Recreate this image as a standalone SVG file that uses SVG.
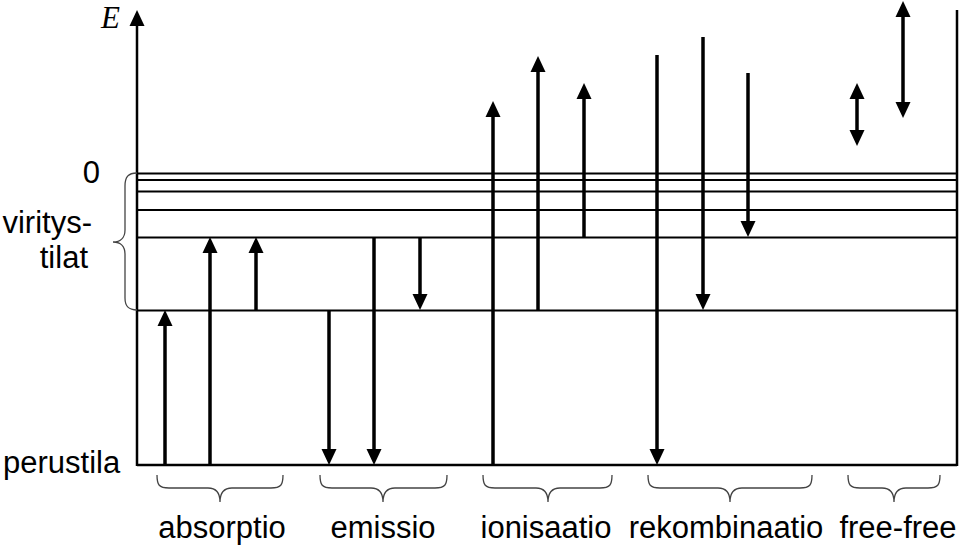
<svg xmlns="http://www.w3.org/2000/svg" width="960" height="549" viewBox="0 0 960 549">
<defs>
<marker id="ah" markerUnits="userSpaceOnUse" markerWidth="16" markerHeight="16" viewBox="0 0 16 16" refX="11" refY="8" orient="auto-start-reverse"><path d="M0,0.5 L16,8 L0,15.5 z" fill="#000"/></marker>
<style>
.lvl{stroke:#000;stroke-width:2;fill:none}
.ax{stroke:#000;stroke-width:2.5;fill:none}
.arr{stroke:#000;stroke-width:3.5;fill:none;marker-end:url(#ah)}
.dbl{stroke:#000;stroke-width:3.5;fill:none;marker-end:url(#ah);marker-start:url(#ah)}
.br{stroke:#444;stroke-width:1.3;fill:none}
text{font-family:"Liberation Sans",Arial,sans-serif;font-size:31px;fill:#000}
text.it{font-family:"Liberation Serif","Times New Roman",serif;font-style:italic;font-size:31px}
</style>
</defs>
<g id="axes">
<path class="ax" d="M137,466 L137,15" style="marker-end:url(#ah)"/>
<path class="ax" d="M957,10 L957,466"/>
<text class="it" x="101" y="28">E</text>
</g>
<g id="levels">
<path class="lvl" d="M137,173.5 H957"/>
<path class="lvl" d="M137,180 H957"/>
<path class="lvl" d="M137,191.5 H957"/>
<path class="lvl" d="M137,210 H957"/>
<path class="lvl" d="M137,237.5 H957"/>
<path class="lvl" d="M137,310.5 H957"/>
<path class="ax" d="M137,465 H957"/>
</g>
<g id="left-labels">
<text x="100" y="183" text-anchor="end">0</text>
<text x="92" y="233" text-anchor="end">viritys-</text>
<text x="88" y="268" text-anchor="end">tilat</text>
<text x="3" y="473">perustila</text>
<path class="br" d="M137,173 C128,173 125,177 125,186 L125,230 C125,238 120,242 113,242 C120,242 125,246 125,254 L125,298 C125,306 128,310 137,310"/>
</g>
<g id="connectors">
<path class="arr" d="M165,465 V315"/>
<path class="arr" d="M210,465 V242"/>
<path class="arr" d="M256,310 V242"/>
<path class="arr" d="M329,310 V460"/>
<path class="arr" d="M374,237 V460"/>
<path class="arr" d="M420,237 V305"/>
<path class="arr" d="M493,465 V106"/>
<path class="arr" d="M538,310 V61"/>
<path class="arr" d="M584,237 V88"/>
<path class="arr" d="M657,55 V460"/>
<path class="arr" d="M703,37 V305"/>
<path class="arr" d="M748,73 V232"/>
<path class="dbl" d="M857,88 V141"/>
<path class="dbl" d="M903,6 V113"/>
</g>
<g id="absorptio">
<path class="br" d="M157,475 C157,485 159,488 169,488 L208,488 C216,488 220,492 220,502 C220,492 224,488 232,488 L271,488 C281,488 283,485 283,475"/>
<text x="222" y="538" text-anchor="middle">absorptio</text>
</g>
<g id="emissio">
<path class="br" d="M320,475 C320,485 322,488 332,488 L371,488 C379,488 383,492 383,502 C383,492 387,488 395,488 L435,488 C445,488 447,485 447,475"/>
<text x="383" y="538" text-anchor="middle">emissio</text>
</g>
<g id="ionisaatio">
<path class="br" d="M483,475 C483,485 485,488 495,488 L536,488 C544,488 548,492 548,502 C548,492 552,488 560,488 L600,488 C610,488 612,485 612,475"/>
<text x="546" y="538" text-anchor="middle">ionisaatio</text>
</g>
<g id="rekombinaatio">
<path class="br" d="M648,475 C648,485 650,488 660,488 L718,488 C726,488 730,492 730,502 C730,492 734,488 742,488 L800,488 C810,488 812,485 812,475"/>
<text x="726" y="538" text-anchor="middle">rekombinaatio</text>
</g>
<g id="free-free">
<path class="br" d="M848,475 C848,485 850,488 860,488 L882,488 C890,488 894,492 894,502 C894,492 898,488 906,488 L928,488 C938,488 940,485 940,475"/>
<text x="898" y="538" text-anchor="middle">free-free</text>
</g>
</svg>
